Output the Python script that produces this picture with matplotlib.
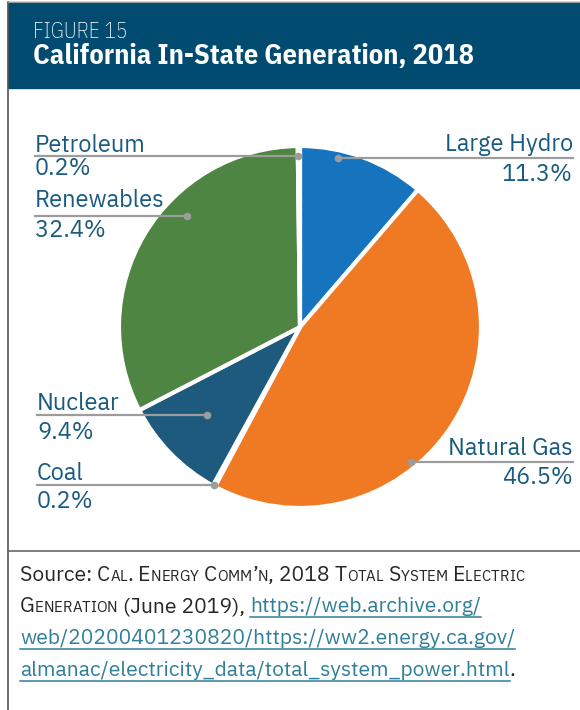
import matplotlib

matplotlib.use("Agg")

import matplotlib.pyplot as plt  # noqa: E402
from matplotlib.lines import Line2D  # noqa: E402

W, H = 580, 710

# data: clockwise from 12 o'clock
sources = ["Large Hydro", "Natural Gas", "Coal", "Nuclear", "Renewables", "Petroleum"]
shares = [11.3, 46.5, 0.2, 9.4, 32.4, 0.2]
colors = ["#1673bd", "#f07a23", "#3d3d3d", "#1e5a7d", "#4e8542", "#7a7a7a"]

# label layout (pixel coords, y measured from the top)
# name -> (line_y, dot_x, line_end_x, name_baseline, pct_baseline, side)
label_layout = {
    "Large Hydro": (157.5, 338, 573, 151.5, 181, "right"),
    "Natural Gas": (462, 411, 573, 455, 484, "right"),
    "Coal": (485, 214, 37, 480, 508, "left"),
    "Nuclear": (415, 207, 37, 410, 439, "left"),
    "Renewables": (215.5, 187, 35, 207, 237, "left"),
    "Petroleum": (156, 298, 35, 152.5, 175, "left"),
}

TEXT_BLUE = "#185a80"
LEADER = "#9c9c9c"
LINK = "#2f7f98"
DARK = "#262626"
FONT = ["IBM Plex Sans", "Noto Sans", "DejaVu Sans"]
TITLE_FONT = ["IBM Plex Sans Condensed", "Barlow Semi Condensed", "DejaVu Sans"]

fig = plt.figure(figsize=(W / 100, H / 100), dpi=100)
ax = fig.add_axes([0, 0, 1, 1])


def py(y):
    return H - y


# pie
ax.pie(shares, colors=colors, startangle=90, counterclock=False,
       center=(300, py(327)), radius=181,
       wedgeprops=dict(edgecolor="white", linewidth=3), frame=True)
ax.set_xlim(0, W)
ax.set_ylim(0, H)
ax.set_aspect("equal")
ax.axis("off")

# header band and frame
ax.add_patch(plt.Rectangle((8, py(88)), W - 8, 86, color="#024b70", zorder=1))
ax.add_line(Line2D([8, 8], [0, py(2)], color="#555555", lw=1.2))
ax.add_line(Line2D([8, W], [py(551), py(551)], color="#666666", lw=1.2))
ax.add_line(Line2D([8, W], [py(1.5), py(1.5)], color="#999999", lw=0.8))

ax.text(33, py(37.5), "FIGURE 15", color="white", fontsize=15.5,
        family=TITLE_FONT, fontweight="light", va="baseline")
ax.text(33, py(63.5), "California In-State Generation, 2018", color="white",
        fontsize=20.4, fontweight="bold", family=TITLE_FONT, va="baseline")

for name, share in zip(sources, shares):
    line_y, dot_x, end_x, name_y, pct_y, side = label_layout[name]
    y = py(line_y)
    ax.add_line(Line2D([dot_x, end_x], [y, y], color=LEADER, lw=1.6, zorder=5))
    ax.plot(dot_x, y, "o", color=LEADER, ms=4.5, zorder=6)
    ha = "left" if side == "left" else "right"
    ax.text(end_x, py(name_y), name, color=TEXT_BLUE, fontsize=17, family=FONT,
            ha=ha, va="baseline")
    ax.text(end_x, py(pct_y), f"{share:.1f}%", color=TEXT_BLUE, fontsize=17,
            family=FONT, ha=ha, va="baseline")

# source note with small caps and underlined links
renderer = fig.canvas.get_renderer()
BASE = 15.2


def small_caps(word):
    segs = []
    for ch in word:
        if ch.isupper() or not ch.isalpha():
            segs.append((ch, BASE, DARK, False))
        else:
            segs.append((ch.upper(), BASE * 0.71, DARK, False))
    return segs


def plain(s):
    return [(s, BASE, DARK, False)]


def link(s):
    return [(s, BASE, LINK, True)]


def draw_line(segments, x, baseline):
    for s, size, color, underline in segments:
        t = ax.text(x, py(baseline), s, fontsize=size, color=color, family=FONT,
                    va="baseline", ha="left")
        w = t.get_window_extent(renderer).width
        if underline:
            ax.add_line(Line2D([x, x + w], [py(baseline + 4.5)] * 2,
                               color=color, lw=1.1))
        x += w


line1 = (plain("Source: ") + small_caps("Cal.") + plain(" ") + small_caps("Energy")
         + plain(" ") + small_caps("Comm’n") + plain(", 2018 ") + small_caps("Total")
         + plain(" ") + small_caps("System") + plain(" ") + small_caps("Electric"))
line2 = small_caps("Generation") + plain(" (June 2019), ") + link("https://web.archive.org/")
line3 = link("web/20200401230820/https://ww2.energy.ca.gov/")
line4 = link("almanac/electricity_data/total_system_power.html") + plain(".")

for segs, base in zip([line1, line2, line3, line4], [581, 612.5, 644, 676]):
    draw_line(segs, 20, base)

fig.savefig("out.png", dpi=100)
